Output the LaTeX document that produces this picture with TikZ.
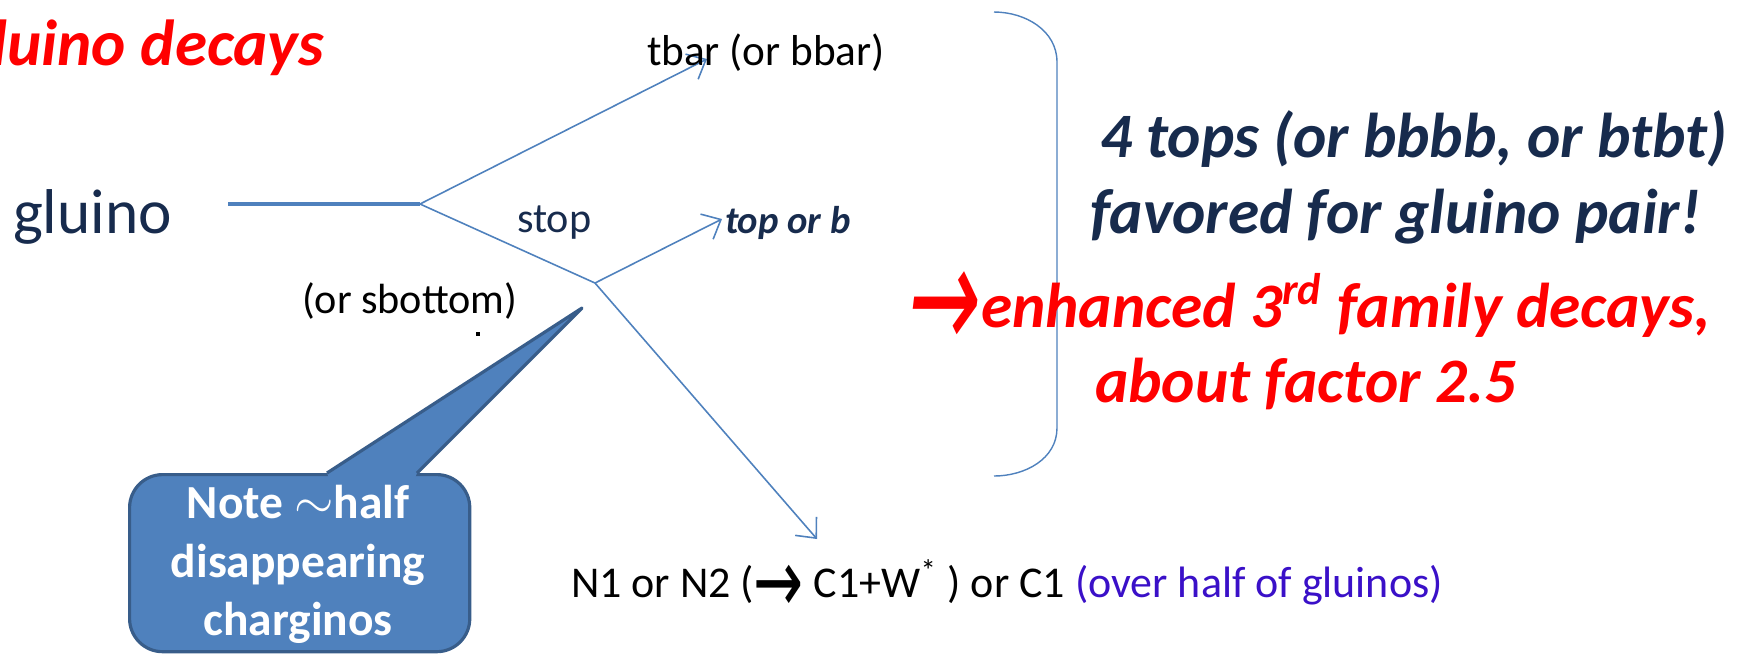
\documentclass[tikz,border=0pt]{standalone}
\usepackage{fontspec}
\setmainfont{Carlito}
\newfontfamily\djv{DejaVu Sans}
\newfontfamily\djvslant[FakeSlant=0.2]{DejaVu Sans}
\usetikzlibrary{arrows.meta}
\definecolor{lineblue}{HTML}{4F81BD}
\definecolor{navy}{HTML}{172B4D}
\definecolor{calloutfill}{HTML}{4F81BD}
\definecolor{calloutedge}{HTML}{385D8A}
\definecolor{purp}{HTML}{3A10C8}
\newcommand\fsz[1]{\fontsize{#1}{#1}\selectfont}
% tall-headed arrow glyph: #1 font size, #2 vertical stretch, #3 lowering
\newcommand\wingarrow[3]{\raisebox{-#3}{\scalebox{1}[#2]{\fontsize{#1}{#1}\selectfont →}}}
\begin{document}
\begin{tikzpicture}[x=0.01cm,y=-0.01cm,
  txt/.style={inner sep=0pt, outer sep=0pt, anchor=base west},
  decayline/.style={draw=lineblue, line width=0.45pt},
  decayarrow/.style={decayline, -{Straight Barb[length=4.5pt,width=8pt]}},
  small/.style={font=\fsz{12pt}},
  bigbi/.style={font=\fsz{18pt}\bfseries\itshape},
  calloutshape/.style={fill=calloutfill, draw=calloutedge, line width=0.9pt},
  callouttext/.style={inner sep=0pt, outer sep=0pt, anchor=base, text=white, font=\fsz{13.5pt}\bfseries}]
\useasboundingbox (0,0) rectangle (1750,653);
\clip (0,0) rectangle (1750,653);
% title
\node[txt, anchor=base east, text=red, font=\fsz{18.5pt}\bfseries\itshape] (title) at (324,65) {gluino decays};
% decay tree
\node[txt, text=navy, font=\fsz{18pt}] (gluino) at (13,233) {gluino};
\coordinate (g0) at (228,204);
\coordinate (v1) at (420,204);
\coordinate (v2) at (595,283);
\coordinate (e1) at (707,59);
\coordinate (e2) at (722,219);
\coordinate (e3) at (817,539);
\draw[draw=lineblue, line width=0.9pt] (g0) -- (v1);
\draw[decayline] (v1) -- (v2);
\draw[decayarrow] (v1) -- (e1);
\draw[decayarrow] (v2) -- (e2);
\draw[decayarrow] (v2) -- (e3);
\node[txt, font=\fsz{12.3pt}] (tbar) at (647,65) {tbar (or bbar)};
\node[txt, small, text=navy] (stop) at (517,232) {stop};
\node[txt, text=navy, font=\fsz{11pt}\bfseries\itshape] (topb) at (725,233) {top or b};
\node[txt, small] (sbot) at (302,313) {(or sbottom)};
\fill (476,332) rectangle (480,336);
\node[txt, font=\fsz{12.5pt}] (nline) at (571,597) {N1 or N2 ({\djv\wingarrow{17pt}{1.5}{4.5pt}} C1+W\textsuperscript{*} ) or C1 \textcolor{purp}{(over half of gluinos)}};
% bracket
\draw[decayline, line width=0.4pt] (994,12) to[out=0,in=90] (1057,62) -- (1057,428) to[out=-90,in=0] (994,476);
% right texts
\node[txt, bigbi, text=navy] (tops) at (1100,157) {4 tops (or bbbb, or btbt)};
\node[txt, bigbi, text=navy] (fav) at (1090,233) {favored for gluino pair!};
\node[txt, text=red, font=\djvslant] (rarrow) at (903,349) {\wingarrow{24.7pt}{1.7}{0pt}};
\node[txt, bigbi, text=red] (enh) at (981,327) {enhanced 3\textsuperscript{rd} family decays,};
\node[txt, bigbi, text=red] (about) at (1095,402) {about factor 2.5};
% callout
\node[calloutshape, rounded corners=0.33cm, minimum width=3.4cm, minimum height=1.77cm, anchor=north west, inner sep=0pt] (notebox) at (128,473) {};
\coordinate (tip) at (582,308);
\fill[calloutfill] (329,478) -- (327,473) -- (tip) -- (417,473) -- (415,478) -- cycle;
\draw[draw=calloutedge, line width=0.9pt, line join=round] (327,473) -- (tip) -- (417,473);
\node[callouttext] (note1) at (298,518) {Note $\sim$half};
\node[callouttext] (note2) at (298,577) {disappearing};
\node[callouttext] (note3) at (298,635) {charginos};
\end{tikzpicture}
\end{document}
